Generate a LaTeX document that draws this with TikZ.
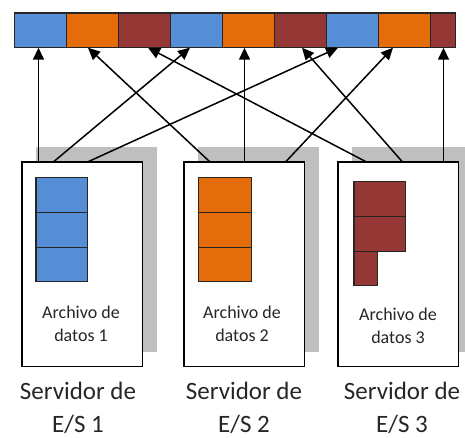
\documentclass[tikz,border=0pt]{standalone}
\usepackage{fontspec}
\setmainfont{Carlito}
\usetikzlibrary{arrows.meta}
\definecolor{fblue}{HTML}{558ED5}
\definecolor{forange}{HTML}{E46C0A}
\definecolor{fred}{HTML}{953735}
\definecolor{shade}{HTML}{BFBFBF}
\definecolor{ink}{HTML}{262626}
\begin{document}
\begin{tikzpicture}[x=1pt,y=-1pt,
  cell/.style={draw=ink,line width=1.1pt,minimum width=52pt,minimum height=34.7pt,
    inner sep=0pt,outer sep=0pt,anchor=north west},
  server/.style={draw=black,fill=white,line width=1.2pt,minimum width=120.5pt,
    minimum height=204.5pt,inner sep=0pt,outer sep=0pt,anchor=north west},
  shadowbox/.style={fill=shade,minimum width=120.5pt,minimum height=204.5pt,
    inner sep=0pt,outer sep=0pt,anchor=north west},
  link/.style={line width=1.5pt,-{Triangle[length=12pt,width=11pt]}},
  filetext/.style={font=\fontsize{18}{23.5}\selectfont,align=center,text=ink},
  servertext/.style={font=\fontsize{25}{32.5}\selectfont,align=center,text=ink,
    inner sep=0pt}]

\useasboundingbox (0,0) rectangle (465,438);

% shared file striped across the servers
\node[cell,fill=fblue]   (c1) at (14.7,13) {};
\node[cell,fill=forange] (c2) at (66.7,13) {};
\node[cell,fill=fred]    (c3) at (118.7,13) {};
\node[cell,fill=fblue]   (c4) at (170.7,13) {};
\node[cell,fill=forange] (c5) at (222.7,13) {};
\node[cell,fill=fred]    (c6) at (274.7,13) {};
\node[cell,fill=fblue]   (c7) at (326.7,13) {};
\node[cell,fill=forange] (c8) at (378.7,13) {};
\node[cell,fill=fred,minimum width=25pt] (c9) at (430.7,13) {};

% drop shadows behind the servers
\node[shadowbox] (sh1) at (36,147.5) {};
\node[shadowbox] (sh2) at (198,147.5) {};
\node[shadowbox] (sh3) at (352,147.5) {};

% servers
\node[server] (b1) at (22,162) {};
\node[server] (b2) at (184,162) {};
\node[server] (b3) at (338,162) {};

% connector start points on the server tops
\coordinate (s11) at ([xshift=16.5pt]b1.north west);
\coordinate (s12) at ([xshift=31.3pt]b1.north west);
\coordinate (s13) at ([xshift=65.5pt]b1.north west);
\coordinate (s21) at ([xshift=26pt]b2.north west);
\coordinate (s22) at ([xshift=60.5pt]b2.north west);
\coordinate (s23) at ([xshift=101.5pt]b2.north west);
\coordinate (s31) at ([xshift=28.5pt]b3.north west);
\coordinate (s32) at ([xshift=64.5pt]b3.north west);
\coordinate (s33) at ([xshift=105.5pt]b3.north west);

% connectors from each server to its blocks
\draw[link] (s11) -- (s11 |- c1.south);
\draw[link] (s12) -- ([xshift=-6.7pt]c4.south);
\draw[link] (s13) -- ([xshift=-14.7pt]c7.south);
\draw[link] (s21) -- ([xshift=-4.7pt]c2.south);
\draw[link] (s22) -- (s22 |- c5.south);
\draw[link] (s23) -- ([xshift=-11.7pt]c8.south);
\draw[link] (s31) -- ([xshift=3.3pt]c3.south);
\draw[link] (s32) -- ([xshift=1.3pt]c6.south);
\draw[link] (s33) -- (s33 |- c9.south);

% redraw server frames above the connector ends
\node[server] at (22,162) {};
\node[server] at (184,162) {};
\node[server] at (338,162) {};

% local data files
\node[cell,fill=fblue,minimum width=51.7pt] (f11) at (36,177.7) {};
\node[cell,fill=fblue,minimum width=51.7pt] (f12) at (36,212.4) {};
\node[cell,fill=fblue,minimum width=51.7pt] (f13) at (36,247.1) {};

\node[cell,fill=forange,minimum width=53pt] (f21) at (198.3,177.7) {};
\node[cell,fill=forange,minimum width=53pt] (f22) at (198.3,212.4) {};
\node[cell,fill=forange,minimum width=53pt] (f23) at (198.3,247.1) {};

\node[cell,fill=fred,minimum width=51.7pt] (f31) at (354,181.7) {};
\node[cell,fill=fred,minimum width=51.7pt] (f32) at (354,216.4) {};
\node[cell,fill=fred,minimum width=23.3pt] (f33) at (354,251.1) {};

% captions
\node[filetext] (t1) at (81,324) {Archivo de\\datos 1};
\node[filetext] (t2) at (242,324) {Archivo de\\datos 2};
\node[filetext] (t3) at (398,326) {Archivo de\\datos 3};

\node[servertext] (l1) at (78,408) {Servidor de\\E/S 1};
\node[servertext] (l2) at (244,408) {Servidor de\\E/S 2};
\node[servertext] (l3) at (402,408) {Servidor de\\E/S 3};
\end{tikzpicture}
\end{document}
